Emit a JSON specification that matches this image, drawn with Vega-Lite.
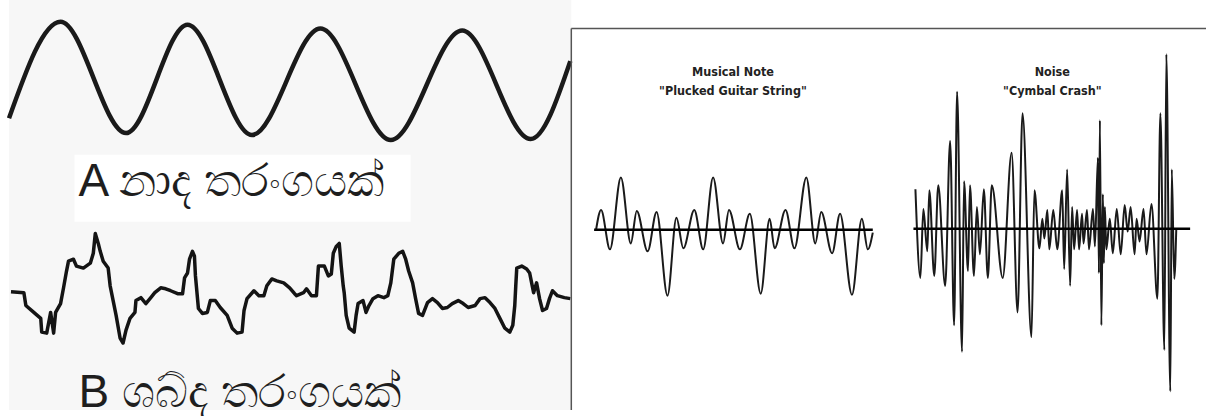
{
  "$schema": "https://vega.github.io/schema/vega-lite/v6.json",
  "width": 1207,
  "height": 416,
  "autosize": {"type": "fit", "contains": "padding"},
  "padding": 0,
  "background": "#ffffff",
  "config": {"view": {"stroke": null}},
  "data": {"values": [{}]},
  "datasets": {
    "sine": [
      {"x": 0, "y": 120}, {"x": 52, "y": 22}, {"x": 118, "y": 135}, {"x": 180, "y": 25},
      {"x": 245, "y": 137}, {"x": 314, "y": 29}, {"x": 385, "y": 142}, {"x": 457, "y": 31},
      {"x": 526, "y": 141}, {"x": 566, "y": 62}
    ],
    "noise": [
      {"x": 2, "y": 296}, {"x": 15, "y": 297}, {"x": 17, "y": 310}, {"x": 25, "y": 317}, {"x": 32, "y": 323},
      {"x": 33, "y": 337}, {"x": 38, "y": 338}, {"x": 42, "y": 317}, {"x": 45, "y": 338}, {"x": 47, "y": 317},
      {"x": 52, "y": 308}, {"x": 55, "y": 292}, {"x": 58, "y": 275}, {"x": 60, "y": 265}, {"x": 65, "y": 263},
      {"x": 68, "y": 270}, {"x": 75, "y": 272}, {"x": 82, "y": 267}, {"x": 85, "y": 257}, {"x": 87, "y": 237},
      {"x": 90, "y": 247}, {"x": 92, "y": 255}, {"x": 95, "y": 265}, {"x": 100, "y": 272}, {"x": 102, "y": 290},
      {"x": 105, "y": 305}, {"x": 108, "y": 320}, {"x": 112, "y": 343}, {"x": 115, "y": 348}, {"x": 118, "y": 335},
      {"x": 122, "y": 323}, {"x": 127, "y": 317}, {"x": 128, "y": 305}, {"x": 133, "y": 302}, {"x": 138, "y": 308},
      {"x": 143, "y": 302}, {"x": 147, "y": 297}, {"x": 153, "y": 292}, {"x": 158, "y": 293}, {"x": 163, "y": 295},
      {"x": 170, "y": 298}, {"x": 175, "y": 298}, {"x": 177, "y": 282}, {"x": 180, "y": 277}, {"x": 182, "y": 263},
      {"x": 185, "y": 255}, {"x": 187, "y": 260}, {"x": 188, "y": 280}, {"x": 191, "y": 313}, {"x": 195, "y": 318},
      {"x": 200, "y": 317}, {"x": 203, "y": 305}, {"x": 208, "y": 305}, {"x": 213, "y": 312}, {"x": 220, "y": 320},
      {"x": 225, "y": 333}, {"x": 230, "y": 338}, {"x": 235, "y": 337}, {"x": 237, "y": 315}, {"x": 240, "y": 303},
      {"x": 247, "y": 295}, {"x": 252, "y": 300}, {"x": 257, "y": 300}, {"x": 260, "y": 290}, {"x": 265, "y": 283},
      {"x": 270, "y": 285}, {"x": 277, "y": 287}, {"x": 283, "y": 292}, {"x": 288, "y": 298}, {"x": 290, "y": 300},
      {"x": 297, "y": 297}, {"x": 300, "y": 293}, {"x": 305, "y": 300}, {"x": 310, "y": 300}, {"x": 312, "y": 270},
      {"x": 318, "y": 270}, {"x": 322, "y": 280}, {"x": 325, "y": 278}, {"x": 327, "y": 257}, {"x": 330, "y": 250},
      {"x": 333, "y": 247}, {"x": 335, "y": 270}, {"x": 337, "y": 290}, {"x": 338, "y": 297}, {"x": 340, "y": 320},
      {"x": 343, "y": 333}, {"x": 348, "y": 337}, {"x": 350, "y": 320}, {"x": 352, "y": 308}, {"x": 357, "y": 305},
      {"x": 360, "y": 317}, {"x": 363, "y": 310}, {"x": 367, "y": 303}, {"x": 372, "y": 300}, {"x": 378, "y": 302},
      {"x": 382, "y": 300}, {"x": 385, "y": 287}, {"x": 388, "y": 263}, {"x": 393, "y": 257}, {"x": 397, "y": 255},
      {"x": 400, "y": 263}, {"x": 403, "y": 275}, {"x": 407, "y": 287}, {"x": 410, "y": 303}, {"x": 413, "y": 318},
      {"x": 417, "y": 320}, {"x": 422, "y": 307}, {"x": 427, "y": 303}, {"x": 432, "y": 307}, {"x": 437, "y": 313},
      {"x": 442, "y": 312}, {"x": 447, "y": 308}, {"x": 453, "y": 305}, {"x": 458, "y": 308}, {"x": 463, "y": 312},
      {"x": 470, "y": 310}, {"x": 475, "y": 303}, {"x": 480, "y": 302}, {"x": 485, "y": 307}, {"x": 490, "y": 313},
      {"x": 495, "y": 323}, {"x": 500, "y": 333}, {"x": 505, "y": 337}, {"x": 508, "y": 330}, {"x": 510, "y": 310},
      {"x": 511, "y": 290}, {"x": 512, "y": 272}, {"x": 517, "y": 270}, {"x": 522, "y": 273}, {"x": 525, "y": 277},
      {"x": 527, "y": 287}, {"x": 529, "y": 297}, {"x": 532, "y": 287}, {"x": 535, "y": 303}, {"x": 538, "y": 315},
      {"x": 542, "y": 313}, {"x": 545, "y": 303}, {"x": 548, "y": 295}, {"x": 553, "y": 300}, {"x": 560, "y": 302},
      {"x": 566, "y": 303}
    ],
    "guitar": [
      {"x": 592, "y": 233}, {"x": 597, "y": 213}, {"x": 606, "y": 253}, {"x": 617, "y": 180}, {"x": 627, "y": 247},
      {"x": 633, "y": 214}, {"x": 644, "y": 255}, {"x": 653, "y": 215}, {"x": 664, "y": 300}, {"x": 673, "y": 221},
      {"x": 680, "y": 252}, {"x": 691, "y": 213}, {"x": 700, "y": 253}, {"x": 710, "y": 180}, {"x": 720, "y": 247},
      {"x": 726, "y": 213}, {"x": 737, "y": 253}, {"x": 747, "y": 217}, {"x": 758, "y": 298}, {"x": 767, "y": 222},
      {"x": 772, "y": 252}, {"x": 783, "y": 213}, {"x": 792, "y": 252}, {"x": 804, "y": 180}, {"x": 813, "y": 247},
      {"x": 819, "y": 215}, {"x": 830, "y": 257}, {"x": 838, "y": 217}, {"x": 850, "y": 299}, {"x": 860, "y": 222},
      {"x": 866, "y": 253}, {"x": 871, "y": 236}
    ],
    "cymbal": [
      {"x": 914, "y": 192}, {"x": 919, "y": 282}, {"x": 922, "y": 212}, {"x": 926, "y": 255}, {"x": 928, "y": 193},
      {"x": 933, "y": 280}, {"x": 937, "y": 188}, {"x": 944, "y": 290}, {"x": 949, "y": 143}, {"x": 953, "y": 330},
      {"x": 956, "y": 93}, {"x": 961, "y": 357}, {"x": 963, "y": 184}, {"x": 967, "y": 275}, {"x": 969, "y": 188},
      {"x": 973, "y": 280}, {"x": 976, "y": 210}, {"x": 979, "y": 258}, {"x": 983, "y": 192}, {"x": 987, "y": 282},
      {"x": 991, "y": 188}, {"x": 1002, "y": 282}, {"x": 1011, "y": 155}, {"x": 1017, "y": 317}, {"x": 1022, "y": 115},
      {"x": 1031, "y": 342}, {"x": 1034, "y": 193}, {"x": 1039, "y": 252}, {"x": 1042, "y": 222}, {"x": 1044, "y": 242},
      {"x": 1047, "y": 213}, {"x": 1049, "y": 253}, {"x": 1053, "y": 213}, {"x": 1057, "y": 253}, {"x": 1062, "y": 193},
      {"x": 1064, "y": 273}, {"x": 1067, "y": 172}, {"x": 1070, "y": 290}, {"x": 1072, "y": 210}, {"x": 1074, "y": 253},
      {"x": 1077, "y": 213}, {"x": 1079, "y": 253}, {"x": 1082, "y": 217}, {"x": 1083.5, "y": 247}, {"x": 1087, "y": 213},
      {"x": 1089, "y": 253}, {"x": 1093, "y": 212}, {"x": 1095, "y": 250}, {"x": 1098, "y": 160}, {"x": 1099, "y": 277},
      {"x": 1100, "y": 122}, {"x": 1101.5, "y": 330}, {"x": 1103, "y": 197}, {"x": 1104, "y": 267}, {"x": 1105, "y": 210},
      {"x": 1106.5, "y": 253}, {"x": 1110, "y": 222}, {"x": 1113, "y": 257}, {"x": 1117, "y": 212}, {"x": 1121, "y": 258},
      {"x": 1125, "y": 208}, {"x": 1128, "y": 235}, {"x": 1131, "y": 210}, {"x": 1135, "y": 258}, {"x": 1137, "y": 222},
      {"x": 1140, "y": 245}, {"x": 1144, "y": 212}, {"x": 1147, "y": 258}, {"x": 1152, "y": 207}, {"x": 1158, "y": 303},
      {"x": 1161, "y": 115}, {"x": 1165, "y": 355}, {"x": 1167, "y": 55}, {"x": 1171, "y": 397}, {"x": 1172.5, "y": 172},
      {"x": 1175, "y": 283}, {"x": 1177, "y": 233}
    ]
  },
  "layer": [
    {
      "mark": {"type": "rect", "fill": "#f7f7f7"},
      "encoding": {
        "x": {"datum": 0, "type": "quantitative", "scale": {"domain": [0, 1207], "nice": false, "zero": false}, "axis": null},
        "x2": {"datum": 567},
        "y": {"datum": 0, "type": "quantitative", "scale": {"domain": [0, 416], "reverse": true, "nice": false, "zero": false}, "axis": null},
        "y2": {"datum": 416}
      }
    },
    {
      "mark": {"type": "rect", "fill": "#ffffff"},
      "encoding": {
        "x": {"datum": 66, "type": "quantitative", "axis": null},
        "x2": {"datum": 405},
        "y": {"datum": 157, "type": "quantitative", "axis": null},
        "y2": {"datum": 225}
      }
    },
    {
      "data": {"name": "sine"},
      "mark": {"type": "line", "interpolate": "monotone", "color": "#1a1a1a", "strokeWidth": 4.5},
      "encoding": {
        "x": {"field": "x", "type": "quantitative", "axis": null},
        "y": {"field": "y", "type": "quantitative", "axis": null}
      }
    },
    {
      "data": {"name": "noise"},
      "mark": {"type": "line", "interpolate": "linear", "color": "#141414", "strokeWidth": 3.5, "strokeJoin": "round"},
      "encoding": {
        "x": {"field": "x", "type": "quantitative", "axis": null},
        "y": {"field": "y", "type": "quantitative", "axis": null}
      }
    },
    {
      "mark": {"type": "text", "align": "left", "baseline": "alphabetic", "fontSize": 46, "font": "Liberation Sans, DejaVu Sans, sans-serif", "color": "#1e1e1e"},
      "encoding": {
        "x": {"datum": 70, "type": "quantitative", "axis": null},
        "y": {"datum": 199, "type": "quantitative", "axis": null},
        "text": {"value": "A නාද  තරංගයක්"}
      }
    },
    {
      "mark": {"type": "text", "align": "left", "baseline": "alphabetic", "fontSize": 46, "font": "Liberation Sans, DejaVu Sans, sans-serif", "color": "#1e1e1e"},
      "encoding": {
        "x": {"datum": 70, "type": "quantitative", "axis": null},
        "y": {"datum": 413, "type": "quantitative", "axis": null},
        "text": {"value": "B ශබ්ද  තරංගයක්"}
      }
    },
    {
      "mark": {"type": "rule", "color": "#555555", "strokeWidth": 1.5},
      "encoding": {
        "x": {"datum": 567, "type": "quantitative", "axis": null},
        "y": {"datum": 29, "type": "quantitative", "axis": null},
        "y2": {"datum": 416}
      }
    },
    {
      "mark": {"type": "rule", "color": "#555555", "strokeWidth": 1.5},
      "encoding": {
        "x": {"datum": 567, "type": "quantitative", "axis": null},
        "x2": {"datum": 1207},
        "y": {"datum": 29, "type": "quantitative", "axis": null}
      }
    },
    {
      "data": {"name": "guitar"},
      "mark": {"type": "line", "interpolate": "monotone", "color": "#1a1a1a", "strokeWidth": 2},
      "encoding": {
        "x": {"field": "x", "type": "quantitative", "axis": null},
        "y": {"field": "y", "type": "quantitative", "axis": null}
      }
    },
    {
      "data": {"name": "cymbal"},
      "mark": {"type": "line", "interpolate": "monotone", "color": "#1a1a1a", "strokeWidth": 2},
      "encoding": {
        "x": {"field": "x", "type": "quantitative", "axis": null},
        "y": {"field": "y", "type": "quantitative", "axis": null}
      }
    },
    {
      "mark": {"type": "rule", "color": "#000000", "strokeWidth": 2.5},
      "encoding": {
        "x": {"datum": 590, "type": "quantitative", "axis": null},
        "x2": {"datum": 871},
        "y": {"datum": 233, "type": "quantitative", "axis": null}
      }
    },
    {
      "mark": {"type": "rule", "color": "#000000", "strokeWidth": 2.5},
      "encoding": {
        "x": {"datum": 912, "type": "quantitative", "axis": null},
        "x2": {"datum": 1191},
        "y": {"datum": 232, "type": "quantitative", "axis": null}
      }
    },
    {
      "mark": {"type": "text", "align": "center", "baseline": "middle", "fontSize": 12.5, "fontWeight": "bold", "font": "Liberation Sans Narrow, DejaVu Sans Condensed, sans-serif", "color": "#222222", "lineHeight": 19},
      "encoding": {
        "x": {"datum": 730, "type": "quantitative", "axis": null},
        "y": {"datum": 73, "type": "quantitative", "axis": null},
        "text": {"value": ["Musical Note", "\"Plucked Guitar String\""]}
      }
    },
    {
      "mark": {"type": "text", "align": "center", "baseline": "middle", "fontSize": 12.5, "fontWeight": "bold", "font": "Liberation Sans Narrow, DejaVu Sans Condensed, sans-serif", "color": "#222222", "lineHeight": 19},
      "encoding": {
        "x": {"datum": 1052, "type": "quantitative", "axis": null},
        "y": {"datum": 73, "type": "quantitative", "axis": null},
        "text": {"value": ["Noise", "\"Cymbal Crash\""]}
      }
    }
  ]
}
